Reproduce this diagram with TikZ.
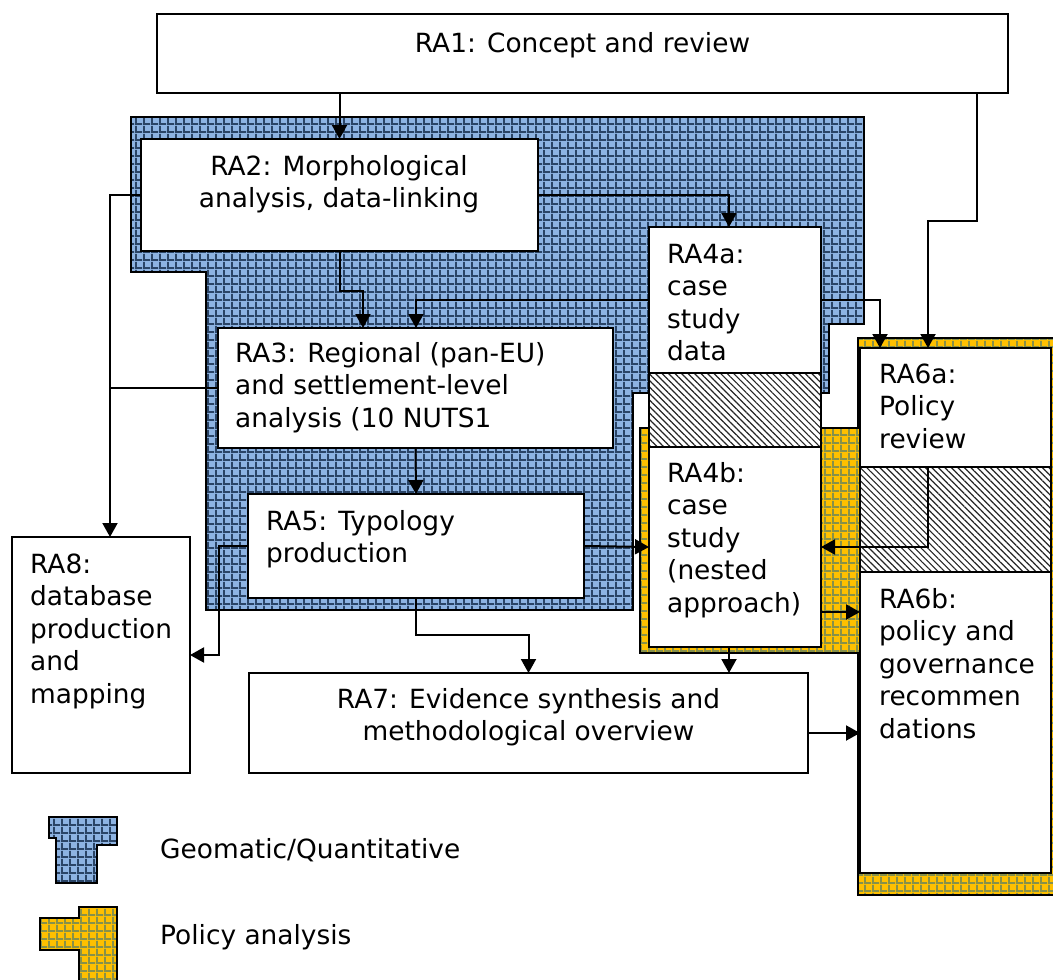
\documentclass[tikz,border=0pt]{standalone}
\usepackage{fontspec}
\setmainfont{DejaVu Sans}
\usetikzlibrary{patterns,patterns.meta,arrows.meta}
\definecolor{bluefill}{HTML}{8DB3E2}
\definecolor{blueline}{HTML}{2A4466}
\definecolor{yelfill}{HTML}{FFC000}
\definecolor{yelline}{HTML}{87914A}
\pgfdeclarepatternformonly{bluegrid}{\pgfpointorigin}{\pgfpoint{7.5pt}{7.5pt}}{\pgfpoint{7.5pt}{7.5pt}}{%
  \pgfpathrectangle{\pgfpointorigin}{\pgfpoint{7.5pt}{2.1pt}}%
  \pgfpathrectangle{\pgfpointorigin}{\pgfpoint{2.1pt}{7.5pt}}%
  \pgfusepath{fill}}
\pgfdeclarepatternformonly{yelgrid}{\pgfpointorigin}{\pgfpoint{8pt}{8pt}}{\pgfpoint{8pt}{8pt}}{%
  \pgfpathrectangle{\pgfpointorigin}{\pgfpoint{8pt}{2pt}}%
  \pgfpathrectangle{\pgfpointorigin}{\pgfpoint{2pt}{8pt}}%
  \pgfusepath{fill}}
\begin{document}
\begin{tikzpicture}[x=1pt,y=-1pt,
  box/.style={draw=black, line width=2.6pt, fill=white, inner sep=0pt, outer sep=0pt, rectangle},
  txt/.style={font=\fontsize{26.4}{32.5}\selectfont, align=left, inner sep=0pt, anchor=base west},
  ctxt/.style={font=\fontsize{26.4}{32.5}\selectfont, align=center, inner sep=0pt, anchor=base},
  arr/.style={line width=2pt, -{Triangle[length=14pt,width=15pt]}},
  con/.style={line width=2pt},
  bluereg/.style={fill=bluefill,
    postaction={pattern=bluegrid, pattern color=blueline},
    postaction={draw=black, line width=2.6pt}},
  yelreg/.style={fill=yelfill,
    postaction={pattern=yelgrid, pattern color=yelline},
    postaction={draw=black, line width=2.6pt}},
  hatchband/.style={fill=white,
    postaction={pattern={Lines[angle=-45,distance=4.6pt,line width=1.2pt]}, pattern color=black!85},
    postaction={draw=black, line width=2.6pt}}]
\useasboundingbox (0,0) rectangle (1053,980);

% shaded regions
\path[bluereg] (131,117) -- (864,117) -- (864,324) -- (829,324) -- (829,393) -- (633,393)
  -- (633,610) -- (206,610) -- (206,272) -- (131,272) -- cycle;
\path[yelreg] (640,428) -- (858,428) -- (858,338) -- (1075,338) -- (1075,895) -- (858,895)
  -- (858,653) -- (640,653) -- cycle;

% boxes
\node[box, minimum width=851pt, minimum height=79pt] (ra1) at (582.5,53.5) {};
\node[box, minimum width=397pt, minimum height=112pt] (ra2) at (339.5,195) {};
\node[box, minimum width=395pt, minimum height=120pt] (ra3) at (415.5,388) {};
\path[hatchband] (649,373) rectangle (821,447);
\node[box, minimum width=172pt, minimum height=146pt] (ra4a) at (735,300) {};
\node[box, minimum width=172pt, minimum height=200pt] (ra4b) at (735,547) {};
\node[box, minimum width=336pt, minimum height=104pt] (ra5) at (416,546) {};
\path[hatchband] (860,467) rectangle (1051,572);
\node[box, minimum width=191pt, minimum height=119pt] (ra6a) at (955.5,407.5) {};
\node[box, minimum width=191pt, minimum height=301pt] (ra6b) at (955.5,722.5) {};
\node[box, minimum width=559pt, minimum height=100pt] (ra7) at (528.5,723) {};
\node[box, minimum width=178pt, minimum height=236pt] (ra8) at (101,655) {};

% texts (base anchor = baseline of the last line)
\node[ctxt] (t1) at (582.5,52) {RA1: Concept and review};
\node[ctxt] (t2) at (339,207.5) {RA2: Morphological\\analysis, data-linking};
\node[txt] (t3) at (235,427) {RA3: Regional (pan-EU)\\and settlement-level\\analysis (10 NUTS1};
\node[txt] (t4a) at (667,360.5) {RA4a:\\case\\study\\data};
\node[txt] (t4b) at (667,612) {RA4b:\\case\\study\\(nested\\approach)};
\node[txt] (t5) at (266,562.5) {RA5: Typology\\production};
\node[txt] (t6a) at (879,448) {RA6a:\\Policy\\review};
\node[txt] (t6b) at (879,738) {RA6b:\\policy and\\governance\\recommen\\dations};
\node[ctxt] (t7) at (528.5,740.5) {RA7: Evidence synthesis and\\methodological overview};
\node[txt] (t8) at (30,703) {RA8:\\database\\production\\and\\mapping};

% connectors
\draw[arr] (ra2.north |- ra1.south) -- (ra2.north);
\draw[arr] (ra2.east) -| ([xshift=-6pt]ra4a.north);
\draw[arr] (ra2.south) -- ++(0,40) -| (ra3.north -| 363,0);
\draw[arr] (ra4a.west) -| (ra3.north -| 416,0);
\draw[arr] (ra4a.east) -| (ra6a.north -| 880,0);
\draw[arr] (ra1.south -| 977,0) |- (928,221) -- (ra6a.north -| 928,0);
\draw[arr] (ra2.west) -| (ra8.north -| 110,0);
\draw[con] (ra3.west) -- (ra3.west -| 110,0);
\draw[arr] (ra3.south) -- (ra5.north);
\draw[arr] (ra5.west) -- ++(-29,0) |- (ra8.east);
\draw[arr] (ra5.east) -- (ra4b.west);
\draw[arr] (ra5.south) -- ++(0,37) -| (ra7.north);
\draw[arr] (ra4b.south -| 729,0) -- (ra7.north -| 729,0);
\draw[arr] (ra4b.east |- 0,612) -- (ra6b.west |- 0,612);
\draw[arr] (ra6a.south -| 928,0) |- (ra4b.east);
\draw[arr] (ra7.east |- 0,733) -- (ra6b.west |- 0,733);

% legend
\path[bluereg] (49,817) -- (117,817) -- (117,845) -- (97,845) -- (97,883) -- (56,883)
  -- (56,838) -- (49,838) -- cycle;
\path[yelreg] (79,907) -- (117,907) -- (117,992) -- (79,992) -- (79,950) -- (40,950)
  -- (40,918) -- (79,918) -- cycle;
\node[txt] (lg1) at (160,858) {Geomatic/Quantitative};
\node[txt] (lg2) at (160,944) {Policy analysis};
\end{tikzpicture}
\end{document}
